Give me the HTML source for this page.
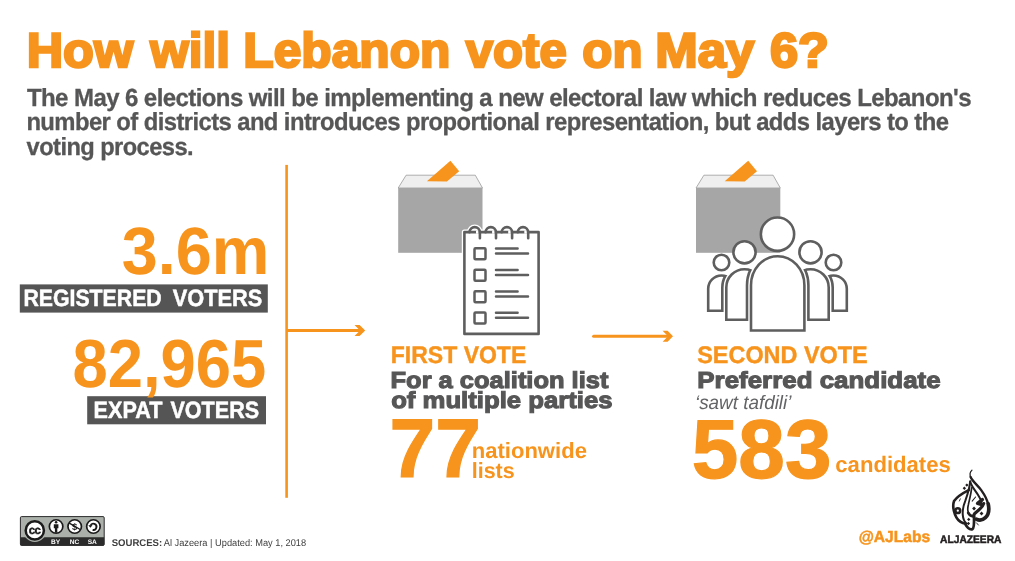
<!DOCTYPE html>
<html lang="en"><head><meta charset="utf-8"><title>How will Lebanon vote on May 6?</title>
<style>
html,body{margin:0;padding:0;background:#fff}
body{width:1015px;height:561px;overflow:hidden}
svg{display:block}
text{font-family:"Liberation Sans",sans-serif;text-rendering:geometricPrecision}
</style></head><body>
<svg width="1015" height="561" viewBox="0 0 1015 561">
<rect width="1015" height="561" fill="#fff"/>

<rect x="19.8" y="284.4" width="248" height="28.2" fill="#555555"/>
<rect x="87.2" y="396.2" width="178.8" height="28.1" fill="#555555"/>
<rect x="285.3" y="164.9" width="2.6" height="332.9" fill="#F7941D"/>
<rect x="287" y="329" width="74" height="3" fill="#F7941D"/>
<polygon points="354.5,325 359.6,325 365.2,330.5 359.6,336 354.5,336 360,330.5" fill="#F7941D"/>
<path d="M593.6 336.3H668" stroke="#F7941D" stroke-width="3" stroke-linecap="round" fill="none"/>
<polygon points="662.6,330.8 667.6,330.8 673,336.3 667.6,341.8 662.6,341.8 668,336.3" fill="#F7941D"/>
<g transform="translate(0,0)">
<polygon points="406.1,175.2 475.3,175.2 482.5,188 398.2,188" fill="#EFEFEF" stroke="#9a9a9a" stroke-width="0.8"/>
<rect x="398.2" y="188" width="84.3" height="64.8" fill="#A6A6A6"/>
<polygon points="426.9,181.2 450.4,160.8 459.2,171.2 446.9,181.4" fill="#F7941D"/>
</g>
<g fill="none" stroke-linecap="round" stroke-linejoin="round">
<rect x="464.4" y="232.1" width="74.2" height="101.8" fill="#fff" stroke="#fff" stroke-width="5.2"/>
<path d="M469.5 232.3A5.2 5.2 0 0 1 479.9 232.3V238.2" stroke="#fff" stroke-width="5.2"/>
<path d="M485.6 232.3A5.2 5.2 0 0 1 496.0 232.3V238.2" stroke="#fff" stroke-width="5.2"/>
<path d="M501.7 232.3A5.2 5.2 0 0 1 512.1 232.3V238.2" stroke="#fff" stroke-width="5.2"/>
<path d="M517.8 232.3A5.2 5.2 0 0 1 528.2 232.3V238.2" stroke="#fff" stroke-width="5.2"/>
<rect x="464.4" y="232.1" width="74.2" height="101.8" fill="#fff" stroke="#5e5e5e" stroke-width="2.6"/>
<path d="M476.0 232.1H478.6" stroke="#fff" stroke-width="3.2" stroke-linecap="butt"/>
<path d="M469.5 232.3A5.2 5.2 0 0 1 479.9 232.3V238.2" stroke="#5e5e5e" stroke-width="2.6"/>
<path d="M492.1 232.1H494.7" stroke="#fff" stroke-width="3.2" stroke-linecap="butt"/>
<path d="M485.6 232.3A5.2 5.2 0 0 1 496.0 232.3V238.2" stroke="#5e5e5e" stroke-width="2.6"/>
<path d="M508.2 232.1H510.8" stroke="#fff" stroke-width="3.2" stroke-linecap="butt"/>
<path d="M501.7 232.3A5.2 5.2 0 0 1 512.1 232.3V238.2" stroke="#5e5e5e" stroke-width="2.6"/>
<path d="M524.3 232.1H526.9" stroke="#fff" stroke-width="3.2" stroke-linecap="butt"/>
<path d="M517.8 232.3A5.2 5.2 0 0 1 528.2 232.3V238.2" stroke="#5e5e5e" stroke-width="2.6"/>
<rect x="474.5" y="248.35" width="11" height="11" rx="1" stroke="#5e5e5e" stroke-width="2.5"/>
<path d="M496 248.6H517.6M496 253.6H528" stroke="#5e5e5e" stroke-width="2.5"/>
<rect x="474.5" y="269.75" width="11" height="11" rx="1" stroke="#5e5e5e" stroke-width="2.5"/>
<path d="M496 270.0H517.6M496 275.0H528" stroke="#5e5e5e" stroke-width="2.5"/>
<rect x="474.5" y="291.15" width="11" height="11" rx="1" stroke="#5e5e5e" stroke-width="2.5"/>
<path d="M496 291.4H517.6M496 296.4H528" stroke="#5e5e5e" stroke-width="2.5"/>
<rect x="474.5" y="312.55" width="11" height="11" rx="1" stroke="#5e5e5e" stroke-width="2.5"/>
<path d="M496 312.8H517.6M496 317.8H528" stroke="#5e5e5e" stroke-width="2.5"/>
</g>
<g transform="translate(297.8,0)">
<polygon points="406.1,175.2 475.3,175.2 482.5,188 398.2,188" fill="#EFEFEF" stroke="#9a9a9a" stroke-width="0.8"/>
<rect x="398.2" y="188" width="84.3" height="64.8" fill="#A6A6A6"/>
<polygon points="426.9,181.2 450.4,160.8 459.2,171.2 446.9,181.4" fill="#F7941D"/>
</g>
<g stroke-linejoin="miter">
<path d="M708.2 310.8V288.8A13.299999999999955 13.3 0 0 1 734.8 288.8V310.8Z" fill="#fff" stroke="#fff" stroke-width="5.40"/>
<path d="M708.2 310.8V288.8A13.299999999999955 13.3 0 0 1 734.8 288.8V310.8Z" fill="#fff" stroke="#5e5e5e" stroke-width="2.6"/>
<path d="M820.2 310.8V288.8A13.299999999999955 13.3 0 0 1 846.8 288.8V310.8Z" fill="#fff" stroke="#fff" stroke-width="5.40"/>
<path d="M820.2 310.8V288.8A13.299999999999955 13.3 0 0 1 846.8 288.8V310.8Z" fill="#fff" stroke="#5e5e5e" stroke-width="2.6"/>
<circle cx="721.5" cy="262.5" r="7.8" fill="#fff" stroke="#5e5e5e" stroke-width="2.6"/>
<circle cx="833.5" cy="262.5" r="7.8" fill="#fff" stroke="#5e5e5e" stroke-width="2.6"/>
<clipPath id="cp1"><path d="M708.2 310.8V288.8A13.299999999999955 13.3 0 0 1 734.8 288.8V310.8Z"/></clipPath>
<path d="M726.3 319.7V287.4A18.200000000000045 18.2 0 0 1 762.7 287.4V319.7Z" clip-path="url(#cp1)" fill="#5e5e5e" stroke="#5e5e5e" stroke-width="10.60"/>
<path d="M726.3 319.7V287.4A18.200000000000045 18.2 0 0 1 762.7 287.4V319.7Z" fill="#fff" stroke="#fff" stroke-width="5.40"/>
<path d="M726.3 319.7V287.4A18.200000000000045 18.2 0 0 1 762.7 287.4V319.7Z" fill="#fff" stroke="#5e5e5e" stroke-width="2.6"/>
<clipPath id="cp2"><path d="M820.2 310.8V288.8A13.299999999999955 13.3 0 0 1 846.8 288.8V310.8Z"/></clipPath>
<path d="M792.3 319.7V287.4A18.200000000000045 18.2 0 0 1 828.7 287.4V319.7Z" clip-path="url(#cp2)" fill="#5e5e5e" stroke="#5e5e5e" stroke-width="10.60"/>
<path d="M792.3 319.7V287.4A18.200000000000045 18.2 0 0 1 828.7 287.4V319.7Z" fill="#fff" stroke="#fff" stroke-width="5.40"/>
<path d="M792.3 319.7V287.4A18.200000000000045 18.2 0 0 1 828.7 287.4V319.7Z" fill="#fff" stroke="#5e5e5e" stroke-width="2.6"/>
<circle cx="744.5" cy="252.3" r="11.1" fill="#fff" stroke="#5e5e5e" stroke-width="2.6"/>
<circle cx="810.5" cy="252.3" r="11.1" fill="#fff" stroke="#5e5e5e" stroke-width="2.6"/>
<clipPath id="cp3"><path d="M726.3 319.7V287.4A18.200000000000045 18.2 0 0 1 762.7 287.4V319.7Z"/><path d="M792.3 319.7V287.4A18.200000000000045 18.2 0 0 1 828.7 287.4V319.7Z"/></clipPath>
<path d="M751.0 330.5V285.2A26.69999999999999 29 0 0 1 804.4 285.2V330.5Z" clip-path="url(#cp3)" fill="#5e5e5e" stroke="#5e5e5e" stroke-width="10.60"/>
<path d="M751.0 330.5V285.2A26.69999999999999 29 0 0 1 804.4 285.2V330.5Z" fill="#fff" stroke="#fff" stroke-width="5.40"/>
<path d="M751.0 330.5V285.2A26.69999999999999 29 0 0 1 804.4 285.2V330.5Z" fill="#fff" stroke="#5e5e5e" stroke-width="2.6"/>
<circle cx="777.5" cy="234.2" r="16.65" fill="#fff" stroke="#5e5e5e" stroke-width="2.6"/>
</g>
<text y="66.8" font-size="48.6" font-weight="bold" font-style="normal" fill="#F7941D" stroke="#F7941D" stroke-width="2.4" stroke-linejoin="miter" stroke-miterlimit="2"><tspan x="26.65" font-weight="bold" textLength="106.63" lengthAdjust="spacingAndGlyphs">How</tspan> <tspan x="150.36" font-weight="bold" textLength="79.69" lengthAdjust="spacingAndGlyphs">will</tspan> <tspan x="243.39" font-weight="bold" textLength="207.01" lengthAdjust="spacingAndGlyphs">Lebanon</tspan> <tspan x="465.79" font-weight="bold" textLength="100.99" lengthAdjust="spacingAndGlyphs">vote</tspan> <tspan x="582.37" font-weight="bold" textLength="60.11" lengthAdjust="spacingAndGlyphs">on</tspan> <tspan x="655.33" font-weight="bold" textLength="99.11" lengthAdjust="spacingAndGlyphs">May</tspan> <tspan x="769.98" font-weight="bold" textLength="59.02" lengthAdjust="spacingAndGlyphs">6?</tspan></text>
<text x="26.94" y="105.55" font-size="24.7" font-weight="bold" font-style="normal" fill="#565657" stroke="#565657" stroke-width="0.3" stroke-linejoin="miter" stroke-miterlimit="2" letter-spacing="-0.6" textLength="944.05" lengthAdjust="spacingAndGlyphs">The May 6 elections will be implementing a new electoral law which reduces Lebanon's</text>
<text x="26.38" y="130.05" font-size="24.7" font-weight="bold" font-style="normal" fill="#565657" stroke="#565657" stroke-width="0.3" stroke-linejoin="miter" stroke-miterlimit="2" letter-spacing="-0.6" textLength="921.97" lengthAdjust="spacingAndGlyphs">number of districts and introduces proportional representation, but adds layers to the</text>
<text x="26.6" y="154.55" font-size="24.7" font-weight="bold" font-style="normal" fill="#565657" stroke="#565657" stroke-width="0.3" stroke-linejoin="miter" stroke-miterlimit="2" letter-spacing="-0.6" textLength="166.42" lengthAdjust="spacingAndGlyphs">voting process.</text>
<text x="121.73" y="273.7" font-size="67" font-weight="bold" font-style="normal" fill="#F7941D" textLength="147.6" lengthAdjust="spacingAndGlyphs">3.6m</text>
<text y="305.65" font-size="23.5" font-weight="bold" font-style="normal" fill="#fff" stroke="#fff" stroke-width="0.5" stroke-linejoin="miter" stroke-miterlimit="2"><tspan x="23.4" font-weight="bold" textLength="138.32" lengthAdjust="spacingAndGlyphs">REGISTERED</tspan> <tspan x="172.78" font-weight="bold" textLength="89.56" lengthAdjust="spacingAndGlyphs">VOTERS</tspan></text>
<text x="72.54" y="386.8" font-size="68" font-weight="bold" font-style="normal" fill="#F7941D" textLength="193.72" lengthAdjust="spacingAndGlyphs">82,965</text>
<text y="417.85" font-size="23.5" font-weight="bold" font-style="normal" fill="#fff" stroke="#fff" stroke-width="0.5" stroke-linejoin="miter" stroke-miterlimit="2"><tspan x="93.58" font-weight="bold" textLength="68.84" lengthAdjust="spacingAndGlyphs">EXPAT</tspan> <tspan x="170.38" font-weight="bold" textLength="88.85" lengthAdjust="spacingAndGlyphs">VOTERS</tspan></text>
<text x="390.79" y="362.9" font-size="24" font-weight="bold" font-style="normal" fill="#F7941D" stroke="#F7941D" stroke-width="0.4" stroke-linejoin="miter" stroke-miterlimit="2" textLength="135.49" lengthAdjust="spacingAndGlyphs">FIRST VOTE</text>
<text x="390.52" y="388.25" font-size="23.2" font-weight="bold" font-style="normal" fill="#565657" stroke="#565657" stroke-width="1.1" stroke-linejoin="miter" stroke-miterlimit="2" textLength="217.92" lengthAdjust="spacingAndGlyphs">For a coalition list</text>
<text x="391.15" y="407.95" font-size="23.2" font-weight="bold" font-style="normal" fill="#565657" stroke="#565657" stroke-width="1.1" stroke-linejoin="miter" stroke-miterlimit="2" textLength="221.41" lengthAdjust="spacingAndGlyphs">of multiple parties</text>
<text x="389.6" y="477.3" font-size="83.4" font-weight="bold" font-style="normal" fill="#F7941D" stroke="#F7941D" stroke-width="1.2" stroke-linejoin="miter" stroke-miterlimit="2" textLength="91.34" lengthAdjust="spacingAndGlyphs">77</text>
<text x="471.69" y="457.7" font-size="22" font-weight="bold" font-style="normal" fill="#F7941D" textLength="115.21" lengthAdjust="spacingAndGlyphs">nationwide</text>
<text x="471.69" y="477.5" font-size="22" font-weight="bold" font-style="normal" fill="#F7941D" textLength="43.01" lengthAdjust="spacingAndGlyphs">lists</text>
<text x="697.21" y="362.9" font-size="24" font-weight="bold" font-style="normal" fill="#F7941D" stroke="#F7941D" stroke-width="0.4" stroke-linejoin="miter" stroke-miterlimit="2" textLength="170.55" lengthAdjust="spacingAndGlyphs">SECOND VOTE</text>
<text x="697.3" y="388.25" font-size="23.2" font-weight="bold" font-style="normal" fill="#565657" stroke="#565657" stroke-width="1.1" stroke-linejoin="miter" stroke-miterlimit="2" textLength="243.35" lengthAdjust="spacingAndGlyphs">Preferred candidate</text>
<text x="695.0" y="409.4" font-size="19.5" font-weight="normal" font-style="italic" fill="#636466" textLength="96.4" lengthAdjust="spacingAndGlyphs">‘sawt tafdili’</text>
<text x="691.76" y="477.5" font-size="83.4" font-weight="bold" font-style="normal" fill="#F7941D" stroke="#F7941D" stroke-width="1.2" stroke-linejoin="miter" stroke-miterlimit="2" textLength="139.73" lengthAdjust="spacingAndGlyphs">583</text>
<text x="835.3" y="472.2" font-size="22.3" font-weight="bold" font-style="normal" fill="#F7941D" textLength="115.54" lengthAdjust="spacingAndGlyphs">candidates</text>
<text y="546.1" font-size="9.8" font-weight="bold" font-style="normal" fill="#404040"><tspan x="111.66" font-weight="bold" textLength="50.55" lengthAdjust="spacingAndGlyphs">SOURCES:</tspan> <tspan x="163.77" font-weight="normal" textLength="142.39" lengthAdjust="spacingAndGlyphs">Al Jazeera | Updated: May 1, 2018</tspan></text>
<text x="858.67" y="542.35" font-size="16" font-weight="bold" font-style="normal" fill="#F7941D" stroke="#F7941D" stroke-width="0.5" stroke-linejoin="miter" stroke-miterlimit="2" textLength="71.4" lengthAdjust="spacingAndGlyphs">@AJLabs</text>
<text x="940.12" y="542.75" font-size="10.8" font-weight="bold" font-style="normal" fill="#231F20" stroke="#231F20" stroke-width="0.5" stroke-linejoin="miter" stroke-miterlimit="2" textLength="61.36" lengthAdjust="spacingAndGlyphs">ALJAZEERA</text>
<g>
<rect x="20.4" y="516.6" width="83.8" height="28.8" rx="1.2" fill="#ABB1AA" stroke="#2b2b2b" stroke-width="1"/>
<path d="M20.4 537.3h83.8v7.5a0.6 0.6 0 0 1 -0.6 0.6h-82.6a0.6 0.6 0 0 1 -0.6 -0.6z" fill="#2b2b2b"/>
<circle cx="34.8" cy="530.4" r="11.6" fill="#ABB1AA"/>
<circle cx="34.8" cy="530.4" r="9.1" fill="#fff" stroke="#1a1a1a" stroke-width="2.5"/>
<text x="34.6" y="534.1" font-size="11.6" font-weight="bold" text-anchor="middle" fill="#1a1a1a" stroke="#1a1a1a" stroke-width="0.4" letter-spacing="-0.5">cc</text>
<circle cx="56.1" cy="526.5" r="6.75" fill="#fff" stroke="#1a1a1a" stroke-width="1.7"/>
<circle cx="56.1" cy="522.3" r="1.3" fill="#1a1a1a"/>
<path d="M53.8 524.2h4.6v4.1h-1.1v4.4h-2.4v-4.4h-1.1z" fill="#1a1a1a"/>
<circle cx="74.7" cy="526.5" r="6.75" fill="#fff" stroke="#1a1a1a" stroke-width="1.7"/>
<text x="74.7" y="530" font-size="9.4" font-weight="bold" text-anchor="middle" fill="#1a1a1a">$</text>
<path d="M69.3 523.2L80.2 529.5" stroke="#1a1a1a" stroke-width="1.4"/>
<circle cx="93.4" cy="526.5" r="6.75" fill="#fff" stroke="#1a1a1a" stroke-width="1.7"/>
<path d="M90.5 525.6A3.1 3.1 0 1 1 92.6 529.8" fill="none" stroke="#1a1a1a" stroke-width="1.9"/>
<path d="M88.3 525.2h4.2l-2.1 2.6z" fill="#1a1a1a"/>
<text x="55.6" y="544" font-size="6.6" font-weight="bold" text-anchor="middle" fill="#fff">BY</text>
<text x="74.4" y="544" font-size="6.6" font-weight="bold" text-anchor="middle" fill="#fff">NC</text>
<text x="92.3" y="544" font-size="6.6" font-weight="bold" text-anchor="middle" fill="#fff">SA</text>
</g>
<g id="ajlogo" transform="translate(950,467) scale(0.06242)" fill="none" stroke="#231F20" stroke-linecap="round" stroke-linejoin="round">
<path d="M352 50C325 75 310 120 335 172" stroke-width="20"/>
<path d="M330 160C360 230 440 290 500 370C550 440 592 500 612 600" stroke-width="38"/>
<path d="M612 590C632 680 622 760 567 812C530 846 470 860 420 834" stroke-width="59"/>
<path d="M325 230C335 300 400 370 450 450C480 500 498 530 505 560" stroke-width="32"/>
<path d="M518 522L442 582L512 602" stroke-width="56"/>
<path d="M540 585C520 650 450 700 400 740C385 755 380 770 380 790" stroke-width="50"/>
<path d="M322 235C318 300 296 400 246 540C213 620 195 660 205 770C210 830 235 880 262 905" stroke-width="32"/>
<path d="M346 335C340 420 312 520 295 600C280 660 280 700 296 735" stroke-width="27"/>
<path d="M292 735C320 785 350 792 382 786M236 898C280 980 330 1005 360 995C385 980 388 900 385 790" stroke-width="45"/>
<path d="M300 370C200 420 110 480 65 545C45 600 50 680 80 760C110 840 150 880 215 900" stroke-width="42"/>
<circle cx="125" cy="700" r="38" stroke-width="40"/>
<path d="M165 510L150 545" stroke-width="14"/>
<path d="M410 480L355 548" stroke-width="17"/>
<path d="M425 895L455 930" stroke-width="14"/>
<path fill="#231F20" stroke="none" d="M270 263l27 27-27 27-27-27zM230 313l27 27-27 27-27-27zM385 634l31 31-31 31-31-31zM505 714l31 31-31 31-31-31zM300 813l27 27-27 27-27-27zM295 878l27 27-27 27-27-27z"/>
</g>
</svg></body></html>
